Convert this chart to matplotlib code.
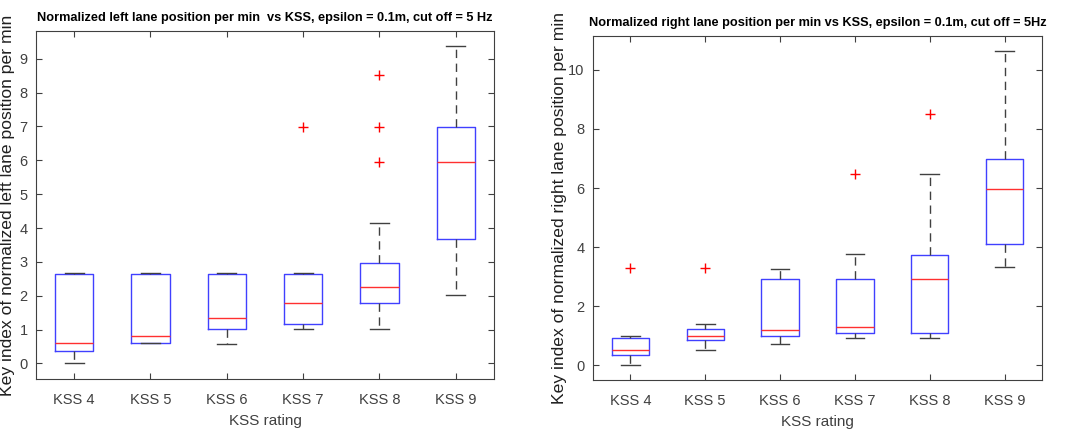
import matplotlib.pyplot as plt

# Data (box stats per KSS level)
categories = ["KSS 4", "KSS 5", "KSS 6", "KSS 7", "KSS 8", "KSS 9"]

left_whislo = [0.0, 0.59, 0.58, 1.03, 1.03, 2.03]
left_q1 = [0.36, 0.61, 1.03, 1.16, 1.79, 3.68]
left_med = [0.61, 0.80, 1.35, 1.79, 2.27, 5.95]
left_q3 = [2.65, 2.65, 2.65, 2.65, 2.98, 6.99]
left_whishi = [2.68, 2.68, 2.68, 2.68, 4.14, 9.37]
left_fliers = [[], [], [], [6.99], [5.94, 6.99, 8.53], []]

right_whislo = [0.0, 0.52, 0.72, 0.91, 0.91, 3.34]
right_q1 = [0.35, 0.87, 1.0, 1.09, 1.09, 4.12]
right_med = [0.53, 0.99, 1.2, 1.30, 2.92, 5.96]
right_q3 = [0.91, 1.23, 2.92, 2.92, 3.74, 6.97]
right_whishi = [1.0, 1.40, 3.27, 3.75, 6.46, 10.64]
right_fliers = [[3.28], [3.28], [], [6.47], [8.5], []]

plt.rcParams["font.family"] = ["Liberation Sans", "DejaVu Sans"]

gray = "#404040"


def make_stats(lo, q1, med, q3, hi, fl):
    stats = []
    for i in range(len(lo)):
        stats.append({"whislo": lo[i], "q1": q1[i], "med": med[i],
                      "q3": q3[i], "whishi": hi[i], "fliers": fl[i]})
    return stats


def draw(ax, stats, title, ylabel, ylim, yticks, ylab_x):
    ax.bxp(stats, positions=range(1, len(stats) + 1), widths=0.5,
           showfliers=True, patch_artist=False,
           boxprops=dict(color="#4040ff", linewidth=1.0),
           medianprops=dict(color="#ff3030", linewidth=1.0),
           whiskerprops=dict(color=gray, linewidth=1.0, linestyle=(0, (6, 4))),
           capprops=dict(color=gray, linewidth=1.0),
           capwidths=0.25,
           flierprops=dict(marker="+", markeredgecolor="red",
                           markersize=7, linestyle="none"))
    ax.set_xlim(0.5, 6.5)
    ax.set_ylim(*ylim)
    ax.set_yticks(yticks)
    ax.set_xticks(range(1, len(categories) + 1))
    ax.set_xticklabels(categories)
    ax.tick_params(direction="in", top=True, right=True, colors=gray,
                   labelsize=10.5, length=4)
    ax.tick_params(axis="x", pad=10)
    ax.tick_params(axis="y", pad=6)
    for s in ax.spines.values():
        s.set_color(gray)
    ax.set_title(title, fontsize=9.2, fontweight="bold", pad=7)
    ax.set_xlabel("KSS rating", fontsize=11, color=gray, labelpad=5)
    ax.set_ylabel(ylabel, fontsize=12.6, color="#202020")
    ax.yaxis.set_label_coords(ylab_x, 0.5)


fig = plt.figure(figsize=(10.65, 4.32), dpi=100)

ax1 = fig.add_axes([0.0338, 0.1227, 0.43, 0.8055])
draw(ax1, make_stats(left_whislo, left_q1, left_med, left_q3, left_whishi, left_fliers),
     "Normalized left lane position per min  vs KSS, epsilon = 0.1m, cut off = 5 Hz",
     "Key index of normalized left lane position per min",
     (-0.46, 9.82), range(0, 10), -0.046)

ax2 = fig.add_axes([0.5568, 0.1204, 0.4216, 0.7963])
draw(ax2, make_stats(right_whislo, right_q1, right_med, right_q3, right_whishi, right_fliers),
     "Normalized right lane position per min vs KSS, epsilon = 0.1m, cut off = 5Hz",
     "Key index of normalized right lane position per min",
     (-0.5, 11.15), range(0, 11, 2), -0.058)

fig.savefig("out.png", dpi=100)
